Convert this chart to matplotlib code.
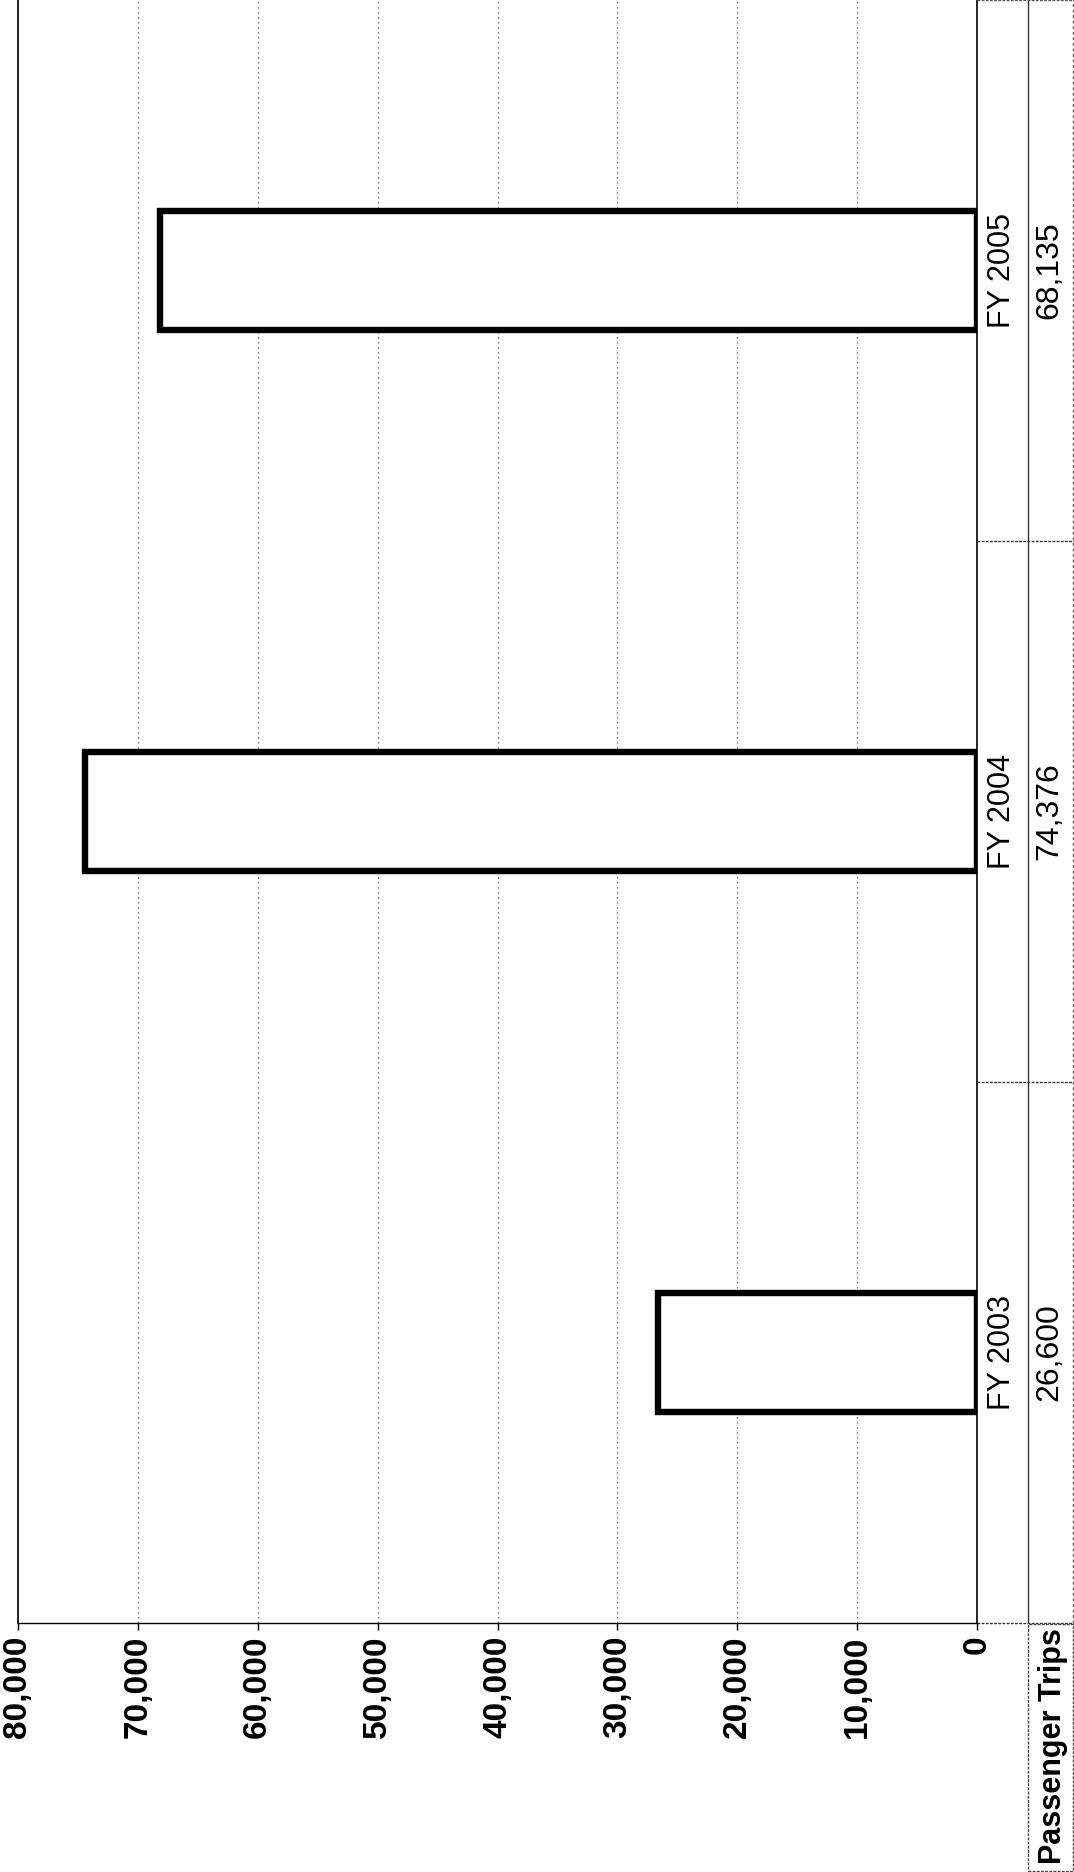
import matplotlib
matplotlib.use("Agg")
import matplotlib.pyplot as plt
from matplotlib.patches import Rectangle
from matplotlib.lines import Line2D

categories = ["FY 2003", "FY 2004", "FY 2005"]
passenger_trips = [26600, 74376, 68135]
value_labels = ["26,600", "74,376", "68,135"]
tick_values = [0, 10000, 20000, 30000, 40000, 50000, 60000, 70000, 80000]
tick_labels = ["0", "10,000", "20,000", "30,000", "40,000", "50,000", "60,000", "70,000", "80,000"]
row_label = "Passenger Trips"

plt.rcParams['font.family'] = ['Liberation Sans', 'DejaVu Sans']

W, H = 1074, 1872
fig = plt.figure(figsize=(W / 100, H / 100), dpi=100)

left_px, right_px, bottom_px = 18, 977, 1623
ax = fig.add_axes([left_px / W, 1 - bottom_px / H, (right_px - left_px) / W, bottom_px / H])

ypos = list(range(len(categories)))
ax.barh(ypos, passenger_trips, height=0.22, color="white", edgecolor="black", linewidth=4.6, zorder=3)
ax.set_xlim(80000, 0)
ax.set_ylim(-0.5, len(categories) - 0.5)
ax.set_xticks(tick_values)
ax.set_xticklabels(tick_labels, rotation=90, fontsize=24, fontweight="bold")
ax.set_yticks([])
ax.tick_params(axis="x", direction="out", length=5, width=1, pad=4)
for v in tick_values[1:-1]:
    ax.axvline(v, color="#555555", linestyle=(0, (1, 3)), linewidth=0.9, zorder=1)
ax.spines["top"].set_visible(False)
ax.spines["left"].set_linewidth(1.2)
ax.spines["right"].set_linewidth(1.2)
ax.spines["bottom"].set_linewidth(1.0)
ax.spines["bottom"].set_linestyle((0, (3, 1)))

# data table to the right
tab = fig.add_axes([right_px / W, 1 - bottom_px / H, (W - right_px) / W, bottom_px / H], sharey=ax)
tab.set_xlim(0, 1)
tab.set_axis_off()
div = (1028 - right_px) / (W - right_px)
for yb in [0.5, 1.5]:
    tab.plot([0, 1], [yb, yb], color="#333333", linewidth=1, linestyle=(0, (2, 1)), clip_on=False)
tab.plot([div, div], [-0.5, 2.5], color="#333333", linewidth=1.0, clip_on=False)
tab.plot([0.985, 0.985], [-0.5, 2.5], color="#555555", linewidth=1.0, linestyle=(0, (2, 2)), clip_on=False)
tab.plot([0, 1], [2.5, 2.5], color="#555555", linewidth=1.0, linestyle=(0, (2, 1)), clip_on=False)
for y, c, v in zip(ypos, categories, value_labels):
    tab.text(0.26, y, c, rotation=90, ha="center", va="center", fontsize=22)
    tab.text(0.75, y, v, rotation=90, ha="center", va="center", fontsize=23)

# row header cell
fig.add_artist(Line2D([right_px / W, 1], [1 - bottom_px / H] * 2, color="#333333", linewidth=1.0,
                      linestyle=(0, (2, 1))))
fig.add_artist(Rectangle((1028 / W, 1 / H), (W - 1029) / W, (H - bottom_px - 2) / H, fill=False,
                         edgecolor="#444444", linewidth=1.0, linestyle=(0, (2, 1))))
fig.text(1053 / W, 1 - 1746 / H, row_label, rotation=90, ha="center", va="center",
         fontsize=22, fontweight="bold")

fig.savefig("out.png", dpi=100, facecolor="white")
